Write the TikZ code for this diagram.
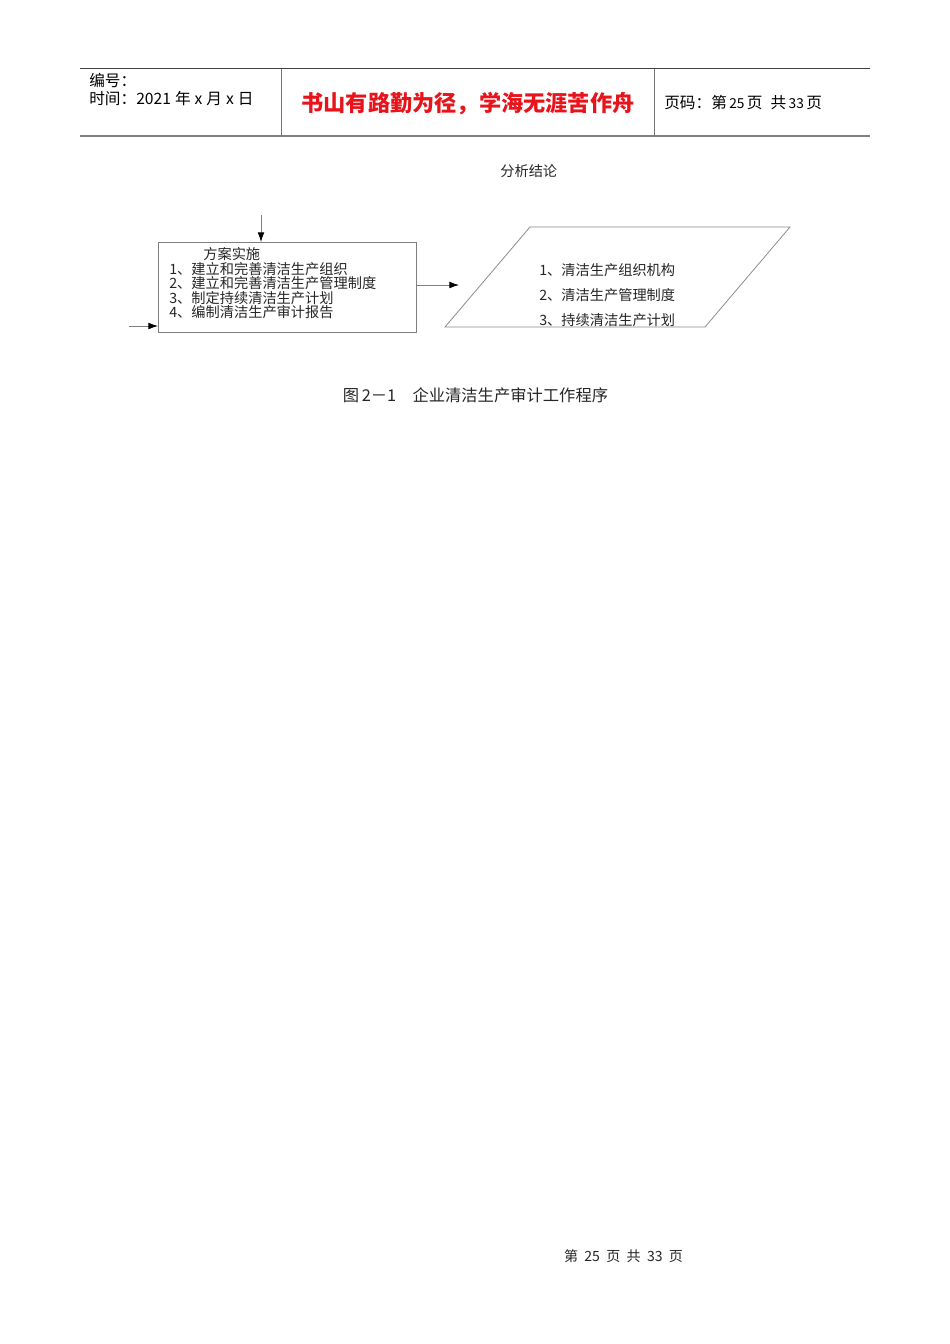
\documentclass[tikz,border=0pt]{standalone}
\usepackage{fontspec}
\setmainfont{Liberation Serif}
\newfontfamily\cjk{Noto Sans CJK SC}
\usetikzlibrary{arrows.meta}
\definecolor{linegray}{HTML}{7F7F7F}
\definecolor{headred}{HTML}{E8141B}
\tikzset{
  conn/.style={draw=linegray, line width=0.5pt, -{Latex[length=6pt,width=4.2pt,color=black]}},
  frame/.style={draw=linegray, line width=0.5pt},
  lbl/.style={inner sep=0pt, anchor=west, font=\cjk\fontsize{8.9pt}{10pt}\selectfont, text=black!85},
  plbl/.style={inner sep=0pt, anchor=west, font=\cjk\fontsize{8.9pt}{10pt}\selectfont, text=black!85},
  hdr/.style={inner sep=0pt, anchor=west, font=\cjk\fontsize{9.8pt}{11pt}\selectfont},
}
\begin{document}
\begin{tikzpicture}[x=0.626pt,y=-0.626pt]
\useasboundingbox (0,0) rectangle (950,1344);
\fill[white] (0,0) rectangle (950,1344);
% header
\draw[draw=black!75, line width=0.6pt] (80,68.5) -- (870,68.5);
\draw[draw=black!50, line width=1.3pt] (80,136) -- (870,136);
\draw[draw=black!55, line width=0.6pt] (281,68.5) -- (281,136);
\draw[draw=black!55, line width=0.6pt] (654,68.5) -- (654,136);
\node[hdr] (hno) at (89,80) {编号：};
\node[hdr] (htime) at (89,99) {时间：2021\hspace{2.5pt}年\hspace{2.5pt}x\hspace{2.5pt}月\hspace{2.5pt}x\hspace{2.5pt}日};
\node[inner sep=0pt, font=\cjk\fontsize{13.9pt}{15pt}\selectfont\bfseries, text=headred] (hmotto) at (468,104) {书山有路勤为径，学海无涯苦作舟};
\node[hdr] (hpage) at (664,103) {页码：第\hspace{1.5pt}{\fontsize{8.6pt}{10pt}\selectfont 25}\hspace{1.5pt}页\hspace{5pt}共\hspace{1.5pt}{\fontsize{8.6pt}{10pt}\selectfont 33}\hspace{1.5pt}页};
% diagram
\node[plbl] (concl) at (500,171) {分析结论};
\node[frame, minimum width=258*0.626pt, minimum height=90*0.626pt, inner sep=0pt, anchor=north west] (box) at (158,242) {};
\node[lbl] (t0) at (203,254.5) {方案实施};
\node[lbl] (t1) at (169,269) {1、建立和完善清洁生产组织};
\node[lbl] (t2) at (169,283.5) {2、建立和完善清洁生产管理制度};
\node[lbl] (t3) at (169,298) {3、制定持续清洁生产计划};
\node[lbl] (t4) at (169,312.5) {4、编制清洁生产审计报告};
\coordinate (intop) at (261,215);
\coordinate (inleft) at (129,326);
\coordinate (outend) at (459,285);
\draw[conn] (intop) -- (intop |- box.north);
\draw[conn] (inleft) -- (inleft -| box.west);
\draw[conn] (outend -| box.east) -- (outend);
% parallelogram
\coordinate (p1) at (530,227);
\coordinate (p2) at (790,227);
\coordinate (p3) at (705,327);
\coordinate (p4) at (445,327);
\draw[frame, draw=black!45] (p1) -- (p2) -- (p3) -- (p4) -- cycle;
\node[plbl] (r1) at (539,270) {1、清洁生产组织机构};
\node[plbl] (r2) at (539,295) {2、清洁生产管理制度};
\node[plbl] (r3) at (539,320) {3、持续清洁生产计划};
% caption
\node[inner sep=0pt, font=\cjk\fontsize{10.2pt}{11pt}\selectfont, text=black!85] (cap) at (475.5,395) {图\,2－1\quad 企业清洁生产审计工作程序};
% footer
\node[inner sep=0pt, font=\cjk\fontsize{8.8pt}{10pt}\selectfont, text=black!85] (foot) at (623.5,1256) {第\ \ 25\ \ 页\ \ 共\ \ 33\ \ 页};
\end{tikzpicture}
\end{document}
